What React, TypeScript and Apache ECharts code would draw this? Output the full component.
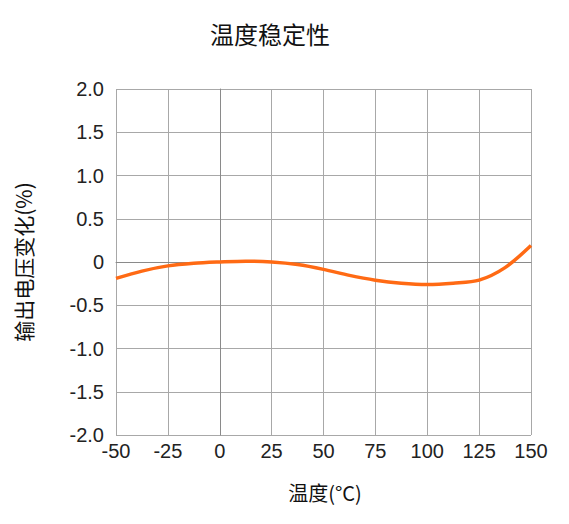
import React, { useEffect, useRef } from 'react';
import * as echarts from 'echarts';

// 温度 (°C) 与 输出电压变化 (%)
const temps = [-50, -37.5, -25, -12.5, 0, 12.5, 25, 37.5, 50, 62.5, 75, 87.5, 100, 112.5, 125, 137.5, 150];
const changes = [
  -0.19, -0.105, -0.045, -0.015, 0.0, 0.01, 0.0, -0.03, -0.085, -0.155, -0.21, -0.245, -0.26, -0.245, -0.21,
  -0.065, 0.19
];

const xTicks = { min: -50, max: 150, interval: 25 };
const yTicks = { min: -2, max: 2, interval: 0.5 };

const LATIN = '"Liberation Sans", Arial, sans-serif';
const CJK = '"Noto Sans CJK SC", sans-serif';

const App: React.FC = () => {
  const chartRef = useRef<HTMLDivElement>(null);

  useEffect(() => {
    if (!chartRef.current) return;
    const chart = echarts.init(chartRef.current, undefined, { renderer: 'svg' });

    const options: echarts.EChartsOption = {
      animation: false,
      backgroundColor: '#fff',
      grid: { left: 116, top: 89, width: 415, height: 346 },
      xAxis: {
        type: 'value',
        ...xTicks,
        axisLine: { show: true, lineStyle: { color: '#8a8a8a', width: 1 } },
        axisTick: { show: false },
        splitLine: { show: true, lineStyle: { color: '#a8a8a8', width: 1 } },
        axisLabel: { color: '#222', fontSize: 20, fontFamily: LATIN, margin: 6 }
      },
      yAxis: {
        type: 'value',
        ...yTicks,
        axisLine: { show: true, lineStyle: { color: '#8a8a8a', width: 1 } },
        axisTick: { show: false },
        splitLine: { show: true, lineStyle: { color: '#a8a8a8', width: 1 } },
        axisLabel: {
          color: '#222',
          fontSize: 20,
          fontFamily: LATIN,
          margin: 12,
          formatter: (v: number) => (v === 0 ? '0' : v.toFixed(1))
        }
      },
      series: [
        {
          type: 'line',
          data: temps.map((t, i) => [t, changes[i]]),
          smooth: 0.3,
          symbol: 'none',
          lineStyle: { color: '#ff6a14', width: 3.5 }
        }
      ],
      graphic: [
        {
          type: 'text',
          x: 270,
          y: 33,
          style: {
            text: '温度稳定性',
            fill: '#111',
            font: `24px ${CJK}`,
            align: 'center',
            verticalAlign: 'middle'
          }
        },
        {
          type: 'text',
          x: 325,
          y: 492,
          style: {
            text: '温度(°C)',
            fill: '#111',
            font: `20px ${CJK}`,
            align: 'center',
            verticalAlign: 'middle'
          }
        },
        {
          type: 'text',
          x: 23,
          y: 262,
          rotation: Math.PI / 2,
          style: {
            text: '输出电压变化(%)',
            fill: '#111',
            font: `21px ${CJK}`,
            align: 'center',
            verticalAlign: 'middle'
          }
        }
      ]
    };

    chart.setOption(options);
    return () => {
      chart.dispose();
    };
  }, []);

  return (
    <div
      ref={chartRef}
      style={{ position: 'absolute', left: 0, top: 0, width: '569px', height: '524px' }}
    />
  );
};

export default App;
